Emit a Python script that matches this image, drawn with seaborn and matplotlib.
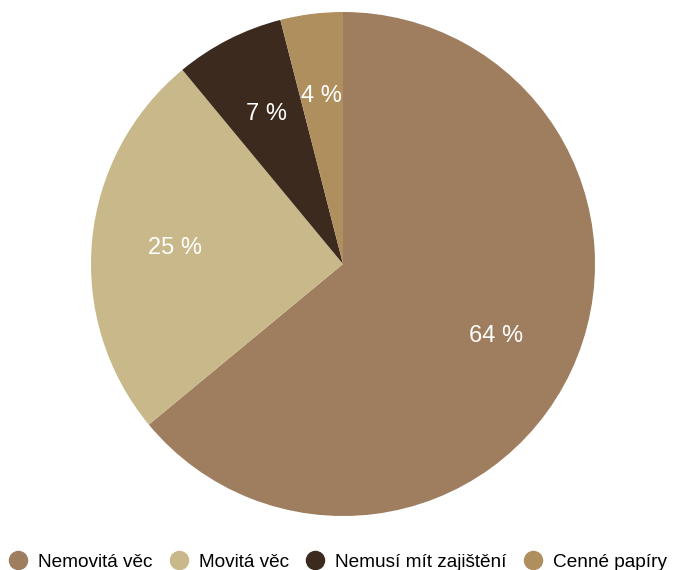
import matplotlib
matplotlib.use("Agg")
import matplotlib.pyplot as plt
from matplotlib.lines import Line2D
import seaborn as sns

categories = ["Nemovitá věc", "Movitá věc", "Nemusí mít zajištění", "Cenné papíry"]
values = [64, 25, 7, 4]
colors = ["#9e7e5e", "#c8b88a", "#3c2a1e", "#b08f5f"]

sns.set_theme(style="white")
plt.rcParams['font.family'] = ['Liberation Sans', 'DejaVu Sans']

W, H = 676, 570
fig = plt.figure(figsize=(W / 100, H / 100), dpi=100)
cx, cy, r = 343, 264, 252
ax = fig.add_axes([(cx - r) / W, (H - cy - r) / H, 2 * r / W, 2 * r / H])

wedges, texts, autotexts = ax.pie(
    values, colors=colors, startangle=90, counterclock=False,
    autopct=lambda p: f"{p:.0f} %", pctdistance=0.67,
    textprops=dict(color="white", fontsize=17),
    wedgeprops=dict(linewidth=0),
)
ax.set_aspect("equal")
ax.set_xlim(-1, 1)
ax.set_ylim(-1, 1)
ax.axis("off")

handles = [Line2D([0], [0], marker="o", linestyle="", markersize=13,
                  markerfacecolor=c, markeredgecolor=c) for c in colors]
fig.legend(handles, categories, loc="center", bbox_to_anchor=(0.5, 1 - 562 / H),
           ncol=4, frameon=False, fontsize=13.7, handletextpad=0.55,
           columnspacing=0.88, handlelength=1.0, borderaxespad=0, borderpad=0,
           labelcolor="black")

fig.savefig("out.png", dpi=100)
